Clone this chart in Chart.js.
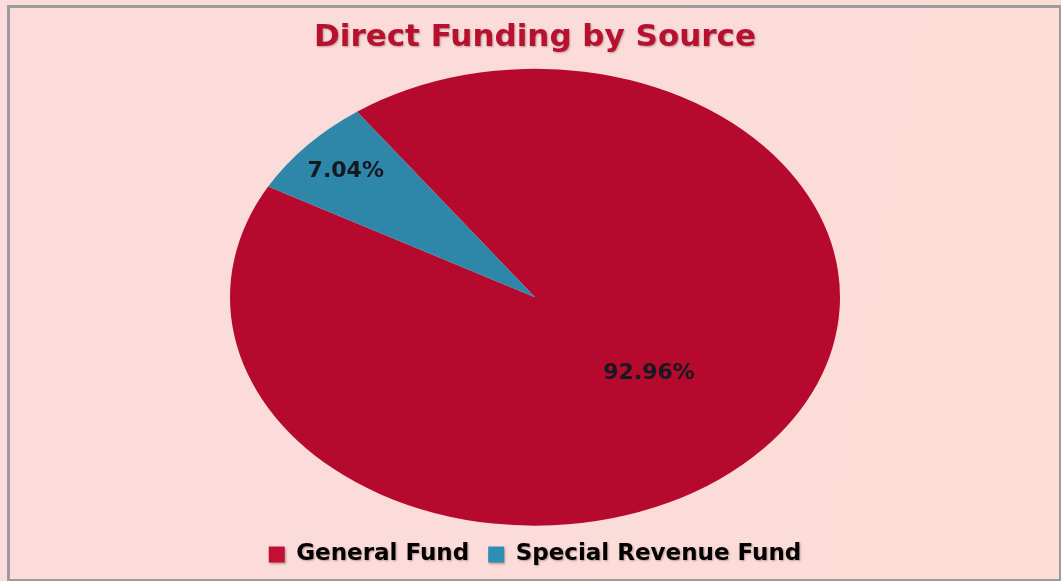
<!DOCTYPE html>
<html>
<head>
<meta charset="utf-8">
<script src="https://cdn.jsdelivr.net/npm/chart.js@4"></script>
<style>
  html, body { margin: 0; padding: 0; }
  body {
    width: 1061px; height: 581px; overflow: hidden; position: relative;
    background: linear-gradient(100deg, #fcdcda 0%, #fcdcda 55%, #fddcd3 100%);
  }
  #frame {
    position: absolute; left: 7px; top: 5px; width: 1049px; height: 571px;
    border: 3px solid #9c9c9c; border-right-width: 2px; border-bottom-width: 2px;
  }
  #wrap { position: absolute; left: 0; top: 0; width: 1061px; height: 581px; }
</style>
</head>
<body>
<div id="frame"></div>
<div id="wrap"><canvas id="chart" width="1061" height="581"></canvas></div>
<script>
// chart data
const categories = ['General Fund', 'Special Revenue Fund'];
const shares = [92.96, 7.04];
const sliceColors = ['#b50a2e', '#2e87a8'];
const legendColors = ['#c20f33', '#2c8fb3'];

// pie is drawn as an ellipse: stretch x around the centre
const X_STRETCH = 305 / 228.5;
const LABEL_RADIUS = [0.5, 0.83];

function softShadow(ctx, on) {
    ctx.shadowColor = on ? 'rgba(60,20,20,0.35)' : 'transparent';
    ctx.shadowBlur = on ? 2 : 0;
    ctx.shadowOffsetX = on ? 1 : 0;
    ctx.shadowOffsetY = on ? 1 : 0;
}

const ellipsePlugin = {
    id: 'ellipse',
    beforeDraw(chart) {
        // title and legend text get a light shadow like the original
        softShadow(chart.ctx, true);
    },
    beforeDatasetsDraw(chart) {
        const arc = chart.getDatasetMeta(0).data[0];
        const ctx = chart.ctx;
        ctx.save();
        softShadow(ctx, false);
        ctx.translate(arc.x, arc.y);
        ctx.scale(X_STRETCH, 1);
        ctx.translate(-arc.x, -arc.y);
    },
    afterDatasetsDraw(chart) {
        const ctx = chart.ctx;
        ctx.restore();

        // percentage labels
        const meta = chart.getDatasetMeta(0);
        ctx.save();
        softShadow(ctx, false);
        ctx.font = 'bold 22px "DejaVu Sans"';
        ctx.fillStyle = '#161820';
        ctx.textAlign = 'center';
        ctx.textBaseline = 'middle';
        meta.data.forEach((arc, i) => {
            const mid = (arc.startAngle + arc.endAngle) / 2;
            const r = arc.outerRadius * LABEL_RADIUS[i];
            const x = arc.x + Math.cos(mid) * r * X_STRETCH;
            const y = arc.y + Math.sin(mid) * r;
            ctx.fillText(shares[i].toFixed(2) + '%', x, y);
        });
        ctx.restore();
    },
    afterDraw(chart) {
        softShadow(chart.ctx, false);
    }
};

new Chart(document.getElementById('chart'), {
    type: 'pie',
    data: {
        labels: categories,
        datasets: [{
            data: shares,
            backgroundColor: sliceColors,
            borderWidth: 0
        }]
    },
    options: {
        responsive: false,
        animation: false,
        rotation: -35.7,
        radius: 228.5,
        layout: { padding: { left: 9, right: 0, top: 0, bottom: 5 } },
        plugins: {
            title: {
                display: true,
                text: 'Direct Funding by Source',
                color: '#b8102f',
                font: { family: 'DejaVu Sans', size: 31, weight: 'bold' },
                padding: { top: 19, bottom: 14.3 }
            },
            legend: {
                position: 'bottom',
                labels: {
                    color: '#111111',
                    font: { family: 'DejaVu Sans', size: 23, weight: 'bold' },
                    boxWidth: 16,
                    boxHeight: 16,
                    padding: 19,
                    generateLabels(chart) {
                        return categories.map((c, i) => ({
                            text: c,
                            fillStyle: legendColors[i],
                            strokeStyle: legendColors[i],
                            lineWidth: 0,
                            index: i
                        }));
                    }
                }
            },
            tooltip: { enabled: false }
        }
    },
    plugins: [ellipsePlugin]
});
</script>
</body>
</html>
